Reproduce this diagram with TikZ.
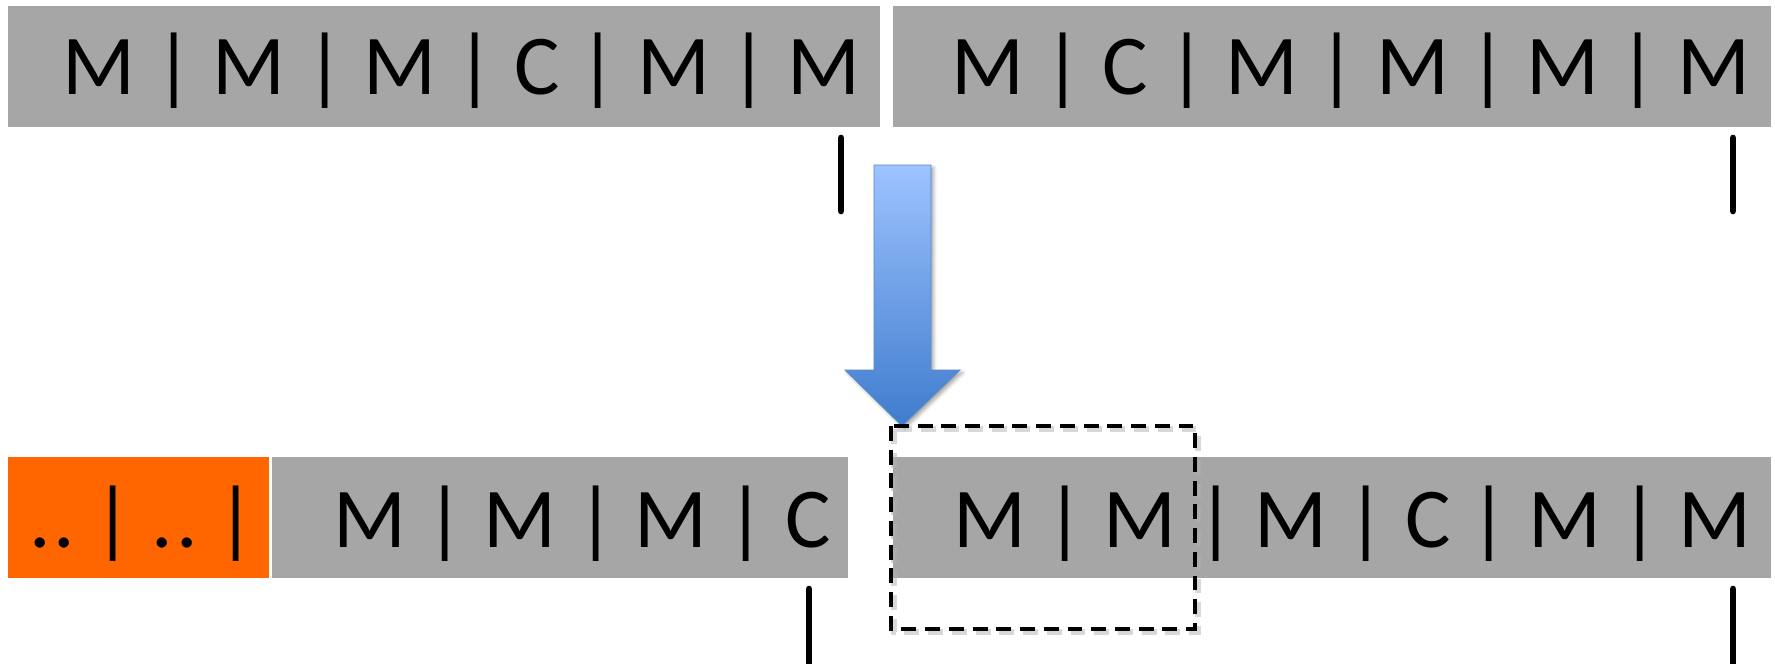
\documentclass[tikz,border=0pt]{standalone}
\usepackage{fontspec}
\setmainfont{Carlito}
\usetikzlibrary{shadows.blur}
\definecolor{bargray}{HTML}{A6A6A6}
\definecolor{barorange}{HTML}{FF6600}
\definecolor{arrowtop}{HTML}{9DC3FF}
\definecolor{arrowbot}{HTML}{3F7CCD}
\definecolor{arrowline}{HTML}{5A8AC8}

\begin{document}
\begin{tikzpicture}[x=0.02cm, y=-0.02cm,
		slots/.style={anchor=base west, inner sep=0pt, font=\fontsize{48.5}{49}\selectfont},
		heapptr/.style={line width=3.8pt, line cap=round},
		movedbox/.style={line width=2.2pt, dash pattern=on 8.5pt off 5pt}]
	\useasboundingbox (0,0) rectangle (1775,663);
	% heap before
	\fill[bargray] (8,6) rectangle (880,127);
	\fill[bargray] (893,6) rectangle (1771,127);
	\node[slots] (oldA) at (62,94) {M | M | M | C | M | M};
	\node[slots] (oldB) at (951.5,94) {M | C | M | M | M | M};
	\draw[heapptr] (841,138) -- (841,211);
	\draw[heapptr] (1733,138) -- (1733,211);
	% compaction step
	\path[blur shadow={shadow xshift=1.5pt, shadow yshift=-1.5pt, shadow blur radius=2pt, shadow opacity=35},
		top color=arrowtop, bottom color=arrowbot, draw=arrowline, line width=0.5pt]
		(874,165) -- (931,165) -- (931,370) -- (960,370) -- (902,426)
		-- (845,370) -- (874,370) -- cycle;
	% heap after
	\fill[barorange] (8,457) rectangle (269,578);
	\fill[bargray] (272,457) rectangle (848,578);
	\fill[bargray] (893,457) rectangle (1771,578);
	\node[slots] (free) at (29,547) {.\kern1.5pt.\kern-4pt{} | .\kern1.5pt.\kern-4pt{} |};
	\node[slots] (newA) at (333,547) {M | M | M | C};
	\node[slots] (newB) at (953,547) {M | M | M | C | M | M};
	\draw[heapptr] (809,589) -- (809,675);
	\draw[heapptr] (1733,589) -- (1733,675);
	% moved block
	\draw[movedbox, black!30, opacity=0.5, line width=3pt] (894,429) rectangle (1198,632);
	\draw[movedbox] (891,426) rectangle (1195,629);
\end{tikzpicture}
\end{document}
